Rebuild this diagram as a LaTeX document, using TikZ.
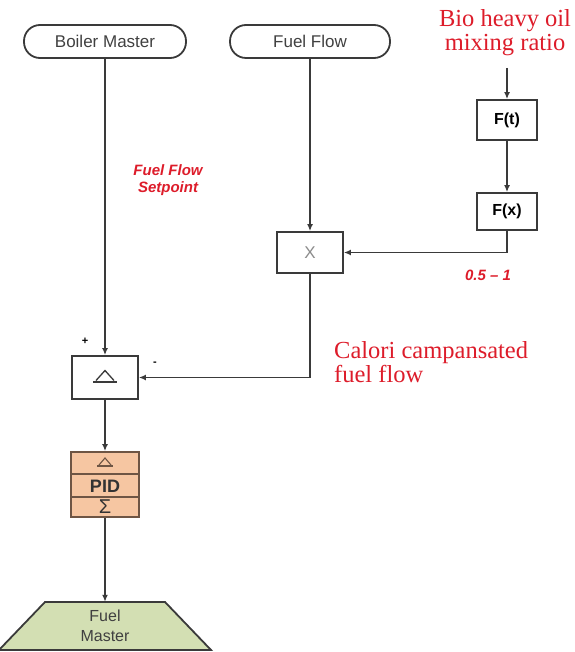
\documentclass[tikz,border=0pt]{standalone}
\usepackage{fontspec}
\setmainfont{Liberation Serif}
\setsansfont{Liberation Sans}
\usetikzlibrary{arrows.meta}
\definecolor{linec}{HTML}{3A3A3A}
\definecolor{redt}{HTML}{DD1C2A}
\definecolor{peach}{HTML}{F6C6A2}
\definecolor{peachedge}{HTML}{6E5544}
\definecolor{olive}{HTML}{D3DFB3}
\tikzset{
  conn/.style={draw=linec, line width=1.8pt, -{Latex[length=7pt,width=6pt]}},
  pill/.style={draw=linec, line width=1.8pt, rounded corners=16pt, minimum width=162pt, minimum height=33pt, font=\sffamily\fontsize{17}{19}\selectfont, text=black!75},
  blockbox/.style={draw=linec, line width=1.8pt, fill=white, inner sep=0pt},
  redserif/.style={text=redt, font=\rmfamily\fontsize{24.5}{24}\selectfont, align=left},
  redsans/.style={text=redt, font=\sffamily\bfseries\itshape\fontsize{15}{17}\selectfont, align=center},
}
\begin{document}
\begin{tikzpicture}[x=1pt,y=-1pt]
\useasboundingbox (0,0) rectangle (574,652);
% top inputs
\node[pill] (bm) at (105,41.5) {Boiler Master};
\node[pill, minimum width=160pt] (ff) at (310,41.5) {Fuel Flow};
\node[redserif, align=center, inner sep=0pt] (bio) at (505,33) {Bio heavy oil\\mixing ratio};
\coordinate (bioin) at (507,68);
% function blocks
\node[blockbox, minimum width=60pt, minimum height=40pt, font=\sffamily\bfseries\fontsize{16}{18}\selectfont] (ft) at (507,120) {F(t)};
\node[blockbox, minimum width=60pt, minimum height=37pt, font=\sffamily\bfseries\fontsize{16}{18}\selectfont] (fx) at (507,211.5) {F(x)};
\node[blockbox, minimum width=66pt, minimum height=41pt, font=\sffamily\fontsize{17}{18}\selectfont, text=black!45] (mul) at (310,252.5) {X};
\node[blockbox, minimum width=66pt, minimum height=43pt] (sub) at (105,377.5) {};
\draw[linec, line width=1.3pt] ([shift={(-9,3)}]sub.center) -- ([shift={(0,-7)}]sub.center) -- ([shift={(9,3)}]sub.center);
\draw[linec, line width=2pt] ([shift={(-12,4)}]sub.center) -- ([shift={(12,4)}]sub.center);
% PID
\node[draw=peachedge, line width=1.8pt, fill=peach, minimum width=68pt, minimum height=65pt, inner sep=0pt] (pid) at (105,484.5) {};
\draw[peachedge, line width=1.8pt] (pid.west |- 0,474) -- (pid.east |- 0,474);
\draw[peachedge, line width=1.8pt] (pid.west |- 0,497) -- (pid.east |- 0,497);
\draw[peachedge, line width=1.1pt] (99,465) -- (105,458) -- (111,465);
\draw[peachedge, line width=1.6pt] (97,466) -- (113,466);
\node[font=\sffamily\bfseries\fontsize{18}{18}\selectfont, text=black!80, inner sep=0pt] (pidt) at (105,486) {PID};
\node[font=\sffamily\fontsize{20}{20}\selectfont, text=black!80, inner sep=0pt] (sig) at (105,507) {Σ};
% Fuel Master
\draw[draw=linec, line width=1.8pt, fill=olive] (45,602) -- (165,602) -- (211,650) -- (-1,650) -- cycle;
\node[minimum width=120pt, minimum height=48pt, inner sep=0pt, align=center, font=\sffamily\fontsize{16}{20}\selectfont, text=black!75] (fm) at (105,626) {Fuel\\Master};
% connectors
\draw[conn] (bioin) -- (ft.north);
\draw[conn] (ft.south) -- (fx.north);
\draw[conn] (fx.south) |- (mul.east);
\draw[conn] (ff.south) -- (mul.north);
\draw[conn] (mul.south) |- (sub.east);
\draw[conn] (bm.south) -- (sub.north);
\draw[conn] (sub.south) -- (pid.north);
\draw[conn] (pid.south) -- (fm.north);
% labels
\node[redsans] (setp) at (168,180) {Fuel Flow\\Setpoint};
\node[redsans] (ratio) at (488,275) {0.5 -- 1};
\node[redserif, anchor=west, inner sep=0pt] (cal) at (334,362) {Calori campansated\\fuel flow};
\node[font=\sffamily\bfseries\fontsize{11}{11}\selectfont] (plus) at (85,341) {+};
\node[font=\sffamily\bfseries\fontsize{11}{11}\selectfont] (minus) at (155,364) {-};
\end{tikzpicture}
\end{document}
